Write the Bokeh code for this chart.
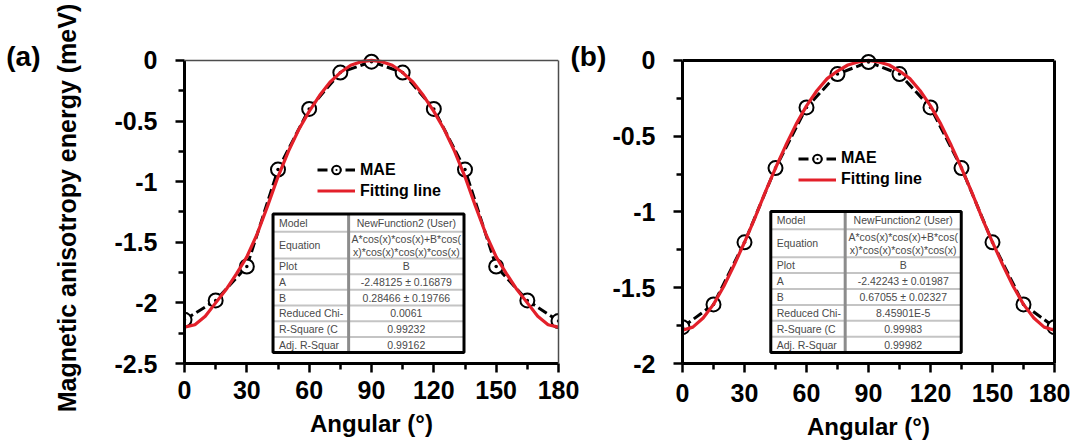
from bokeh.plotting import figure
from bokeh.layouts import row
from bokeh.models import (Range1d, FixedTicker, NumeralTickFormatter, LinearAxis,
                          Span, Legend, LegendItem)
from bokeh.embed import file_html
from bokeh.resources import INLINE
from bokeh.core.properties import value

# ---------------- data ----------------
angles = [0, 15, 30, 45, 60, 75, 90, 105, 120, 135, 150, 165, 180]
mae_a = [-2.14, -1.98, -1.70, -0.90, -0.40, -0.10, -0.01, -0.10, -0.40, -0.90, -1.70, -1.98, -2.15]
mae_b = [-1.76, -1.61, -1.20, -0.71, -0.31, -0.09, -0.01, -0.09, -0.31, -0.71, -1.20, -1.61, -1.76]

fit_angles = [0, 5, 10, 15, 20, 25, 30, 35, 40, 45, 50, 55, 60, 65, 70, 75, 80, 85, 90,
              95, 100, 105, 110, 115, 120, 125, 130, 135, 140, 145, 150, 155, 160, 165, 170, 175, 180]
fit_a = [-2.20, -2.18, -2.11, -2.00, -1.89, -1.76, -1.62, -1.43, -1.20, -0.96, -0.75, -0.57, -0.42,
         -0.29, -0.18, -0.10, -0.04, -0.01, 0.00,
         -0.01, -0.04, -0.10, -0.18, -0.29, -0.42, -0.57, -0.75, -0.96, -1.20, -1.43, -1.62, -1.76,
         -1.89, -2.00, -2.11, -2.18, -2.20]
fit_b = [-1.78, -1.76, -1.70, -1.61, -1.49, -1.35, -1.20, -1.04, -0.87, -0.71, -0.56, -0.42, -0.30,
         -0.20, -0.12, -0.07, -0.03, -0.01, 0.00,
         -0.01, -0.03, -0.07, -0.12, -0.20, -0.30, -0.42, -0.56, -0.71, -0.87, -1.04, -1.20, -1.35,
         -1.49, -1.61, -1.70, -1.76, -1.78]

x_ticks = [0, 30, 60, 90, 120, 150, 180]
x_minor = [15, 45, 75, 105, 135, 165]
y_ticks_a = [-2.5, -2, -1.5, -1, -0.5, 0]
y_minor_a = [-2.25, -1.75, -1.25, -0.75, -0.25]
y_ticks_b = [-2, -1.5, -1, -0.5, 0]
y_minor_b = [-1.75, -1.25, -0.75, -0.25]

table_labels = ["Model", "Equation", "Plot", "A", "B", "Reduced Chi-", "R-Square (C", "Adj. R-Squar"]
table_values_a = ["NewFunction2 (User)", "A*cos(x)*cos(x)+B*cos(\nx)*cos(x)*cos(x)*cos(x)", "B",
                  "-2.48125 \u00b1 0.16879", "0.28466 \u00b1 0.19766", "0.0061", "0.99232", "0.99162"]
table_values_b = ["NewFunction2 (User)", "A*cos(x)*cos(x)+B*cos(\nx)*cos(x)*cos(x)*cos(x)", "B",
                  "-2.42243 \u00b1 0.01987", "0.67055 \u00b1 0.02327", "8.45901E-5", "0.99983", "0.99982"]

series_labels = ["MAE", "Fitting line"]
panel_tags = ["(a)", "(b)"]
x_title = "Angular (\u00b0)"
y_title = "Magnetic anisotropy energy (meV)"

# ---------------- style ----------------
FONT = "Liberation Sans"
RED = "#e3202a"
TAG_LIFT_LINES = 10   # empty lines after the tag: lifts it from the frame centre to the top


def make_panel(width, height, mb_left, mb_right, mb_top, mb_bottom, y_min, y_pad, yticks, yminor,
               frame_color, frame_w, x_label_standoff):
    p = figure(width=width, height=height, x_range=Range1d(0, 180), y_range=Range1d(y_min, y_pad),
               output_backend="svg", toolbar_location=None,
               min_border_left=mb_left, min_border_right=mb_right,
               min_border_top=mb_top, min_border_bottom=mb_bottom)
    p.xgrid.grid_line_color = None
    p.ygrid.grid_line_color = None
    p.outline_line_color = None
    p.background_fill_color = "white"
    p.border_fill_color = "white"

    xa = p.xaxis[0]
    xa.ticker = FixedTicker(ticks=x_ticks, minor_ticks=x_minor)
    ya = p.yaxis[0]
    ya.ticker = FixedTicker(ticks=yticks, minor_ticks=yminor)
    ya.formatter = NumeralTickFormatter(format="0.[0]")
    ya.bounds = (y_min, 0)
    for ax in (xa, ya):
        ax.axis_line_width = 3
        ax.axis_line_color = "black"
        ax.major_tick_line_width = 2.5
        ax.minor_tick_line_width = 2.5
        ax.major_tick_out = 9
        ax.major_tick_in = 0
        ax.minor_tick_out = 6
        ax.minor_tick_in = 0
        ax.major_label_text_font = FONT
        ax.major_label_text_font_style = "bold"
        ax.major_label_text_font_size = "25px"
        ax.major_label_text_color = "black"
        ax.axis_label_text_font = FONT
        ax.axis_label_text_font_style = "bold"
        ax.axis_label_text_font_size = "24px"
        ax.axis_label_text_color = "black"
    xa.major_label_standoff = x_label_standoff
    xa.axis_label = x_title
    xa.axis_label_standoff = 8
    ya.major_label_standoff = 18

    # right and top frame lines (stop at y = 0)
    ra = LinearAxis(ticker=FixedTicker(ticks=[]), bounds=(y_min, 0),
                    axis_line_color=frame_color, axis_line_width=frame_w,
                    major_tick_out=0, major_tick_in=0, minor_tick_out=0, minor_tick_in=0,
                    major_label_standoff=0)
    p.add_layout(ra, "right")
    p.add_layout(Span(location=0, dimension="width", line_color=frame_color, line_width=frame_w))
    return p


def tag_axis(text, standoff):
    return LinearAxis(ticker=FixedTicker(ticks=[]), axis_line_color=None,
                      major_tick_out=0, major_tick_in=0, minor_tick_out=0, minor_tick_in=0,
                      major_label_standoff=0, axis_label=text + "\n" * TAG_LIFT_LINES,
                      axis_label_standoff=standoff,
                      axis_label_orientation="horizontal", axis_label_text_font=FONT,
                      axis_label_text_font_style="bold", axis_label_text_font_size="28px",
                      axis_label_text_line_height=0.98, axis_label_text_color="black")


def draw_series(p, mae, fit, legend_loc):
    lr = p.line(angles, mae, line_color="black", line_width=3, line_dash="10 4")
    sr = p.scatter(angles, mae, marker="circle_dot", size=14, line_color="black",
                   line_width=2, fill_color="white")
    fr = p.line(fit_angles, fit, line_color=RED, line_width=3.2)
    leg = Legend(items=[LegendItem(label=series_labels[0], renderers=[lr, sr]),
                        LegendItem(label=series_labels[1], renderers=[fr])],
                 location=legend_loc, label_text_font=FONT, label_text_font_style="bold",
                 label_text_font_size="16px", label_text_color="black",
                 glyph_width=38, glyph_height=21, label_height=21,
                 label_standoff=5, spacing=0, padding=0, margin=0, border_line_alpha=0,
                 background_fill_alpha=0)
    p.add_layout(leg)


def draw_table(p, geo, box, heights, values):
    fl, fw, y0, ys = geo
    X = lambda px: (px - fl) * 180.0 / fw
    Y = lambda py: -(py - y0) / ys
    left, right, top, div = box
    bounds = [top]
    for h in heights:
        bounds.append(bounds[-1] + h)
    bottom = bounds[-1]
    p.quad(left=[X(left)], right=[X(right)], top=[Y(top)], bottom=[Y(bottom)],
           fill_color="white", line_color=None)
    inner = bounds[1:-1]
    p.segment(x0=[X(left)] * len(inner), x1=[X(right)] * len(inner),
              y0=[Y(b) for b in inner], y1=[Y(b) for b in inner],
              line_color="#c4c4c4", line_width=2)
    p.segment(x0=[X(div)], x1=[X(div)], y0=[Y(top)], y1=[Y(bottom)],
              line_color="#8c8c8c", line_width=3)
    p.quad(left=[X(left)], right=[X(right)], top=[Y(top)], bottom=[Y(bottom)],
           fill_color=None, line_color="black", line_width=3)
    mids = [Y((bounds[i] + bounds[i + 1]) / 2.0) for i in range(len(heights))]
    p.text(x=[X(left + 6)] * len(table_labels), y=mids, text=table_labels,
           text_font=value(FONT), text_font_size="10.5px", text_color="#4a4a4a",
           text_align="left", text_baseline="middle")
    p.text(x=[X((div + right) / 2.0)] * len(values), y=mids, text=values,
           text_font=value(FONT), text_font_size="10.5px", text_color="#4a4a4a",
           text_align="center", text_baseline="middle", text_line_height=1.1)


# ---------------- panel (a) ----------------
geo_a = (184, 376, 60, 122.4)
pa = make_panel(609, 443, 184, 49, 52, 77, -2.5, 0.0654, y_ticks_a, y_minor_a, "#4d4d4d", 1.5, 8)
pa.yaxis[0].axis_label = y_title
pa.yaxis[0].axis_label_text_font_size = "25px"
pa.yaxis[0].axis_label_standoff = 30
pa.add_layout(tag_axis(panel_tags[0], 10), "left")
pa.add_layout(tag_axis(panel_tags[1], 12), "right")
draw_series(pa, mae_a, fit_a, (133, 162))
draw_table(pa, geo_a, (273, 465, 215, 349), [18, 27] + [15.83] * 6, table_values_a)

# ---------------- panel (b) ----------------
geo_b = (679, 375, 58, 152.5)
pb = make_panel(461, 443, 70, 16, 50, 80, -2.0, 0.0525, y_ticks_b, y_minor_b, "black", 3, 11)
draw_series(pb, mae_b, fit_b, (116, 173.5))
draw_table(pb, geo_b, (768, 960, 210, 843), [18, 28] + [16] * 6, table_values_b)

layout = row(pa, pb)
open("out.html", "w").write(file_html(layout, INLINE))
